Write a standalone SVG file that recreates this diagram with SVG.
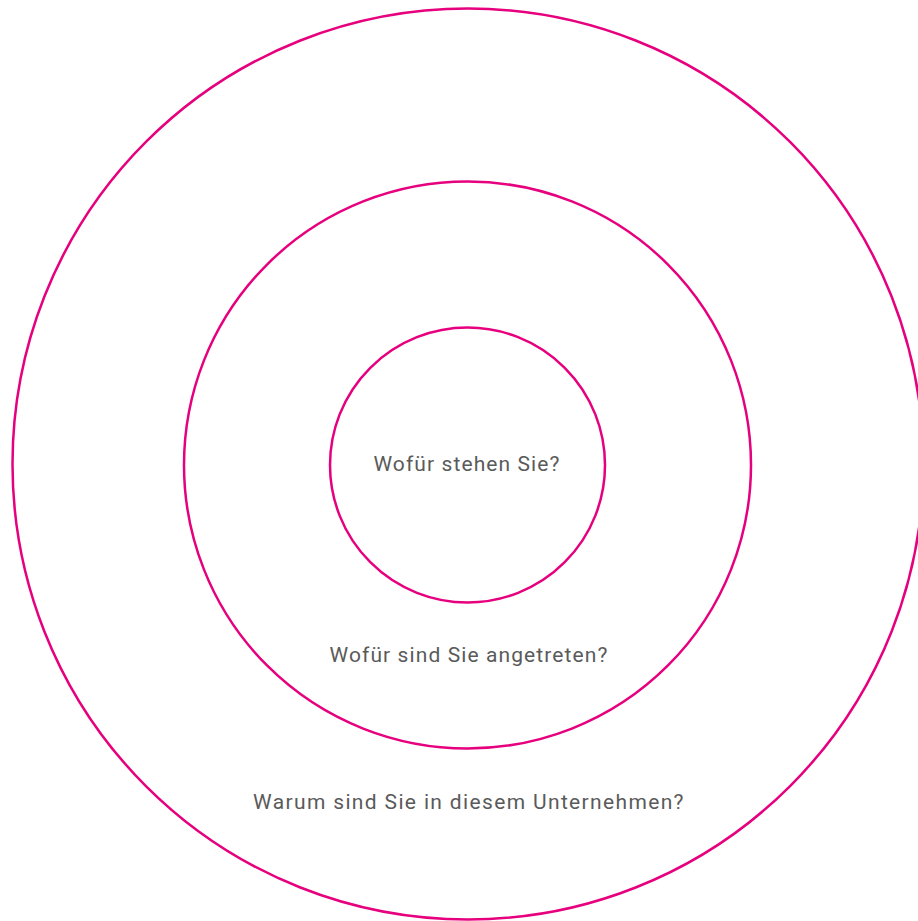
<svg xmlns="http://www.w3.org/2000/svg" width="918" height="921" viewBox="0 0 918 921">
<style>
.ring{fill:none;stroke:#E6007E;stroke-width:2.5}
.lbl{font-family:Roboto,"Liberation Sans",sans-serif;font-size:21px;letter-spacing:1.1px;fill:#5a5a5a;text-anchor:middle}
</style>
<rect width="918" height="921" fill="#fff"/>
<g id="outer"><circle class="ring" cx="468" cy="464" r="455.5"/><text class="lbl" x="469" y="809" style="letter-spacing:1.35px">Warum sind Sie in diesem Unternehmen?</text></g>
<g id="middle"><circle class="ring" cx="467.5" cy="465" r="283.5"/><text class="lbl" x="469" y="662">Wofür sind Sie angetreten?</text></g>
<g id="inner"><circle class="ring" cx="467.5" cy="465" r="137.5"/><text class="lbl" x="467" y="471">Wofür stehen Sie?</text></g>
</svg>
